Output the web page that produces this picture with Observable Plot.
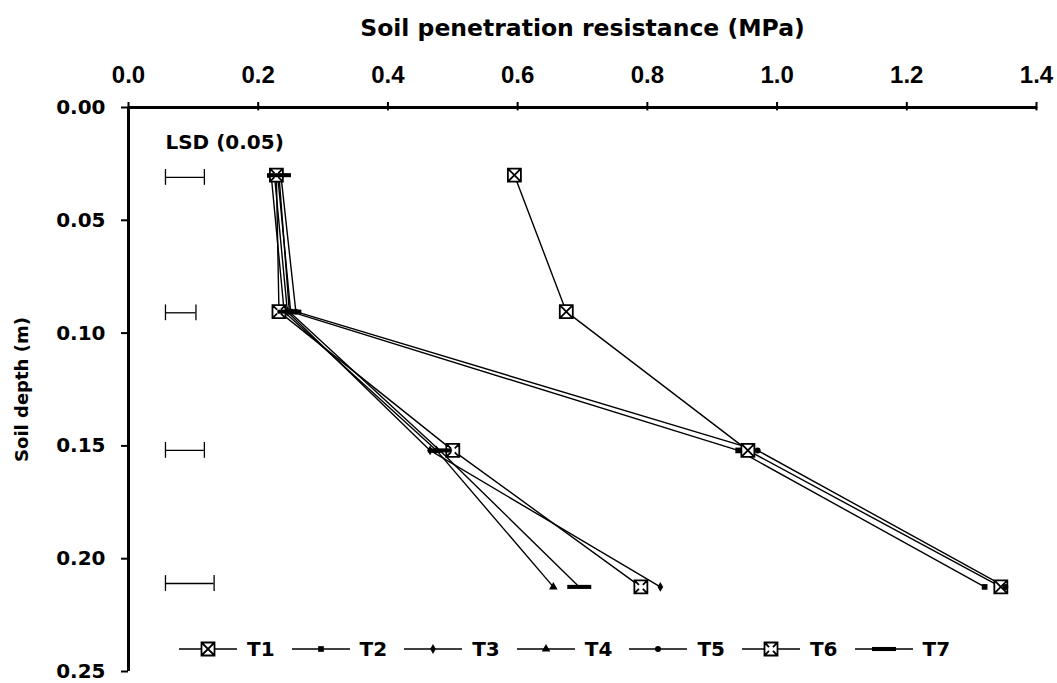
<!DOCTYPE html>
<html>
<head>
<meta charset="utf-8">
<script src="https://cdn.jsdelivr.net/npm/d3@7"></script>
<script src="https://cdn.jsdelivr.net/npm/@observablehq/plot@0.6"></script>
<style>
  body { margin: 0; background: #fff; }
  #chart { position: relative; width: 1057px; height: 683px; }
  #legend { position: absolute; left: 179px; top: 637px; display: flex; font: bold 20px "DejaVu Sans", sans-serif; color: #000; }
  .item { display: flex; align-items: center; width: 112.6px; }
  .item span { margin-left: 8px; }
</style>
</head>
<body>
<div id="chart"></div>
<script>
// Soil depth of each measurement layer (m)
const depths = [0.030, 0.0905, 0.152, 0.2125];

// Penetration resistance (MPa) for each treatment at the depths above
const treatments = ["T1", "T2", "T3", "T4", "T5", "T6", "T7"];
const T1 = [0.595, 0.675, 0.955, 1.345];
const T2 = [0.230, 0.250, 0.940, 1.320];
const T3 = [0.225, 0.245, 0.465, 0.820];
const T4 = [0.220, 0.240, 0.475, 0.655];
const T5 = [0.235, 0.258, 0.970, 1.352];
const T6 = [0.228, 0.232, 0.500, 0.790];
const T7 = [0.232, 0.248, 0.480, 0.695];

// LSD (0.05) bars: depth, width and left end
const lsdDepths = [0.031, 0.091, 0.152, 0.211];
const lsdValues = [0.060, 0.047, 0.060, 0.075];
const lsdStart = 0.057;

// Axis ticks and titles
const xTicks = [0, 0.2, 0.4, 0.6, 0.8, 1.0, 1.2, 1.4];
const yTicks = [0, 0.05, 0.10, 0.15, 0.20, 0.25];
const xTitle = "Soil penetration resistance (MPa)";
const yTitle = "Soil depth (m)";
const lsdLabel = "LSD (0.05)";

// Marker shapes
const boxX = {draw(ctx, size) {
  const r = Math.sqrt(size / Math.PI);
  ctx.moveTo(-r, -r); ctx.lineTo(r, -r); ctx.lineTo(r, r); ctx.lineTo(-r, r); ctx.closePath();
  ctx.moveTo(-r, -r); ctx.lineTo(r, r); ctx.moveTo(r, -r); ctx.lineTo(-r, r);
}};
const boxNotch = {draw(ctx, size) {
  const r = Math.sqrt(size / Math.PI);
  ctx.moveTo(-r, -r); ctx.lineTo(r, -r); ctx.lineTo(r, r); ctx.lineTo(-r, r); ctx.closePath();
  ctx.moveTo(-r, -r); ctx.lineTo(-r * 0.3, -r * 0.3);
  ctx.moveTo(r, -r); ctx.lineTo(r * 0.3, -r * 0.3);
  ctx.moveTo(-r, r); ctx.lineTo(-r * 0.3, r * 0.3);
  ctx.moveTo(r, r); ctx.lineTo(r * 0.3, r * 0.3);
}};
const dash = {draw(ctx, size) {
  const r = Math.sqrt(size / Math.PI);
  ctx.rect(-r, -r * 0.17, 2 * r, r * 0.34);
}};

const styles = {
  T1: {symbol: boxX, r: 6.5, fill: "white", stroke: "black", strokeWidth: 1.8},
  T2: {symbol: "square", r: 3.2, fill: "black", stroke: "none"},
  T3: {symbol: "diamond", r: 3, fill: "black", stroke: "none"},
  T4: {symbol: "triangle", r: 3.2, fill: "black", stroke: "none"},
  T5: {symbol: "circle", r: 3, fill: "black", stroke: "none"},
  T6: {symbol: boxNotch, r: 6.5, fill: "white", stroke: "black", strokeWidth: 1.8},
  T7: {symbol: dash, r: 12, fill: "black", stroke: "none"}
};

const seriesValues = {T1, T2, T3, T4, T5, T6, T7};
const rows = treatments.flatMap(t => depths.map((depth, i) => ({t, depth, value: seriesValues[t][i]})));
const lsd = lsdDepths.map((depth, i) => ({depth, lsd: lsdValues[i]}));
const lsdCaps = lsd.flatMap(d => [{x: lsdStart, depth: d.depth}, {x: lsdStart + d.lsd, depth: d.depth}]);

const bold = {fontWeight: "bold"};

const plot = Plot.plot({
  width: 1057,
  height: 683,
  marginLeft: 128,
  marginRight: 21,
  marginTop: 107,
  marginBottom: 12,
  style: {fontFamily: "DejaVu Sans, sans-serif", background: "white", color: "black", overflow: "visible"},
  x: {domain: [0, 1.4]},
  y: {domain: [0, 0.25], reverse: true},
  marks: [
    // short stubs below the top axis so its ticks cross the line
    Plot.ruleX(xTicks, {x: d => d, y1: () => 0, y2: () => 0.0015, stroke: "black", strokeWidth: 2}),
    Plot.axisX(xTicks, {anchor: "top", tickSize: 6, tickPadding: 19, strokeWidth: 2, tickFormat: d3.format(".1f"),
      fontSize: 24, fontFamily: "Liberation Sans", ...bold, label: null}),
    Plot.axisY(yTicks, {anchor: "left", tickSize: 7, tickPadding: 16, strokeWidth: 2, tickFormat: d3.format(".2f"),
      fontSize: 20, ...bold, label: null}),
    Plot.ruleY([0], {stroke: "black", strokeWidth: 3}),
    Plot.ruleX([0], {stroke: "black", strokeWidth: 3}),
    Plot.text([xTitle], {frameAnchor: "top", dy: -79, lineAnchor: "middle", textAnchor: "middle", fontSize: 23.5, ...bold}),
    Plot.text([yTitle], {frameAnchor: "left", dx: -106, rotate: -90, lineAnchor: "middle", textAnchor: "middle", fontSize: 18, ...bold}),
    // LSD bars
    Plot.ruleY(lsd, {y: "depth", x1: () => lsdStart, x2: d => lsdStart + d.lsd, stroke: "black", strokeWidth: 1.3}),
    Plot.ruleX(lsdCaps, {x: "x", y1: d => d.depth - 0.0035, y2: d => d.depth + 0.0035, stroke: "black", strokeWidth: 1.3}),
    Plot.text([lsdLabel], {x: () => lsdStart, y: () => 0.0155, textAnchor: "start", fontSize: 20, ...bold}),
    // treatment profiles
    Plot.line(rows, {x: "value", y: "depth", z: "t", stroke: "black", strokeWidth: 1.4}),
    ...treatments.map(t => Plot.dot(rows.filter(d => d.t === t), {x: "value", y: "depth", ...styles[t]}))
  ]
});

const chart = document.getElementById("chart");
chart.appendChild(plot);

// Legend: line sample with marker, then treatment name
const symbolTypes = {square: d3.symbolSquare, diamond: d3.symbolDiamond, triangle: d3.symbolTriangle, circle: d3.symbolCircle};
const legend = document.createElement("div");
legend.id = "legend";
for (const t of treatments) {
  const s = styles[t];
  const item = document.createElement("div");
  item.className = "item";
  const svg = d3.create("svg").attr("width", 60).attr("height", 22);
  svg.append("line").attr("x1", 0).attr("x2", 58).attr("y1", 11).attr("y2", 11).attr("stroke", "black").attr("stroke-width", 1.5);
  const symType = typeof s.symbol === "string" ? symbolTypes[s.symbol] : s.symbol;
  svg.append("path")
    .attr("transform", "translate(29,11)")
    .attr("d", d3.symbol(symType, s.r * s.r * Math.PI)())
    .attr("fill", s.fill).attr("stroke", s.stroke).attr("stroke-width", s.strokeWidth || 0);
  item.appendChild(svg.node());
  const label = document.createElement("span");
  label.textContent = t;
  item.appendChild(label);
  legend.appendChild(item);
}
chart.appendChild(legend);
</script>
</body>
</html>
